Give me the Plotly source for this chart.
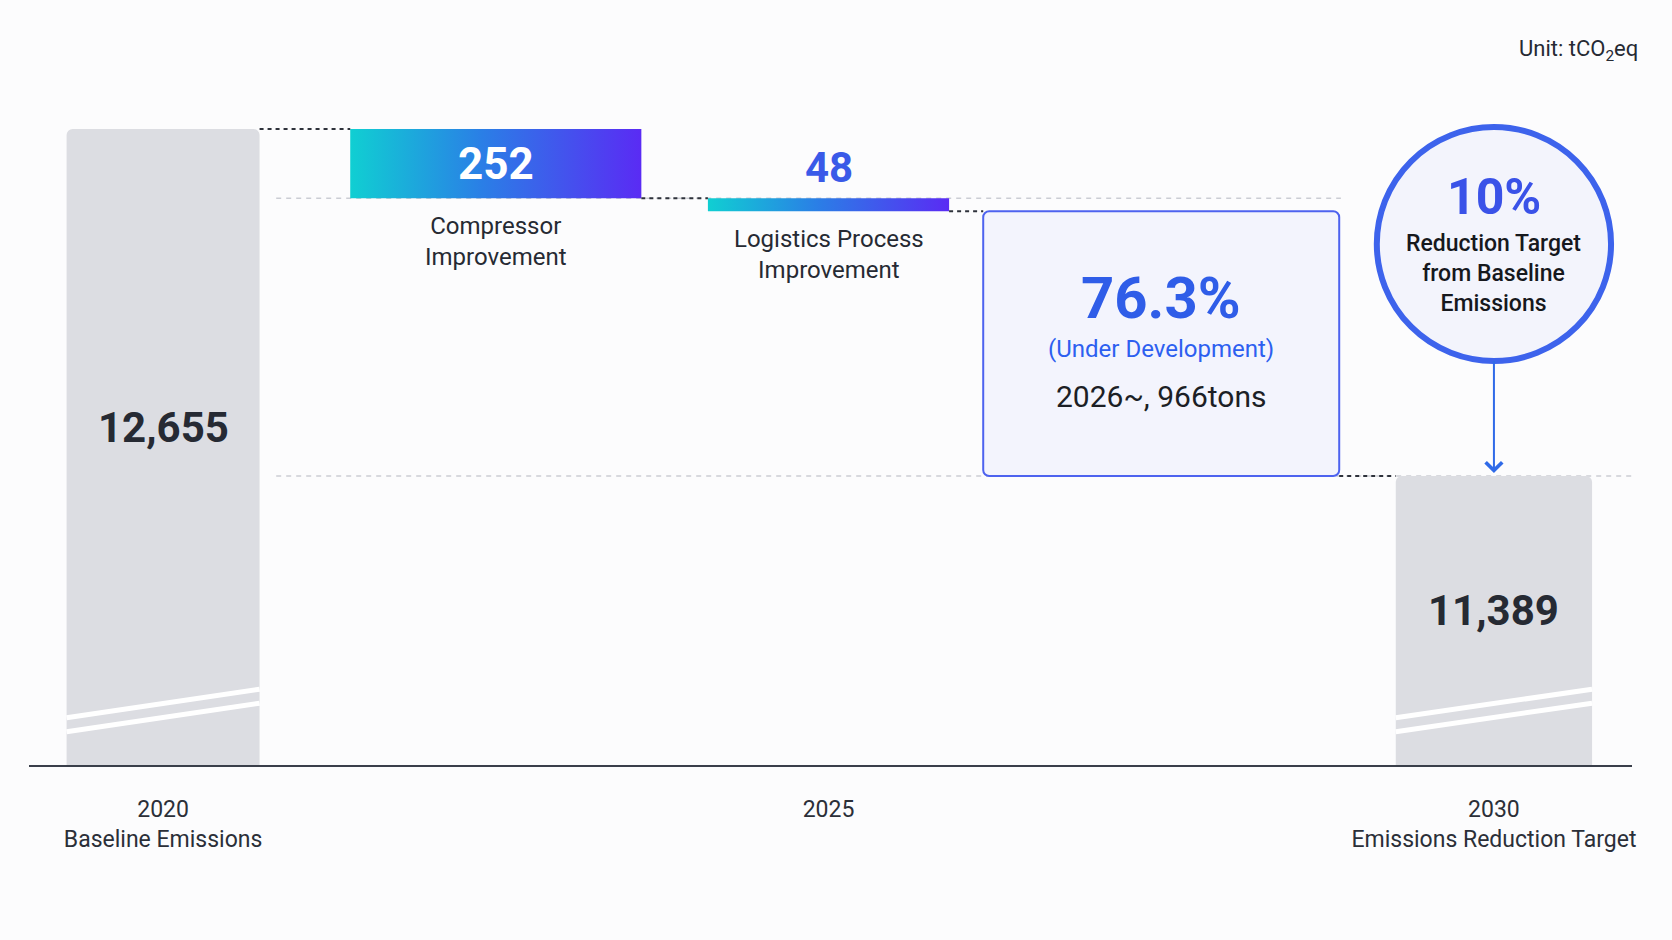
import numpy as np
import plotly.graph_objects as go

# data (tCO2eq)
baseline_2020 = 12655
step_names = ["Compressor<br>Improvement", "Logistics Process<br>Improvement", "(Under Development)"]
step_values = [252, 48, 966]
target_2030 = 11389
dev_period = "2026~"
tick_labels = ["2020<br>Baseline Emissions", "2025", "2030<br>Emissions Reduction Target"]
circle_text = "Reduction Target<br>from Baseline<br>Emissions"

# waterfall levels from the data
tops = baseline_2020 - np.concatenate([[0], np.cumsum(step_values)[:-1]])
bases = tops - np.array(step_values)
total_cut = baseline_2020 - target_2030
dev_share = step_values[2] / total_cut * 100
target_pct = total_cut / baseline_2020 * 100

# layout / style
FONT = "Roboto"
DARK = "#262a33"
x_pos = [0, 1, 2, 3, 4]
widths = [0.58, 0.875, 0.725, 1.07, 0.59]
grad = [[0, "#10cfd2"], [0.45, "#2a7fe6"], [1, "#5a2bf4"]]

fig = go.Figure()

# gray total bars (broken axis, bottom truncated)
fig.add_trace(go.Bar(x=[x_pos[0], x_pos[4]], y=[baseline_2020, target_2030],
                     width=[widths[0], widths[4]], marker_color="#dcdde2",
                     marker_line_width=0, hoverinfo="skip"))

# under-development box
fig.add_trace(go.Bar(x=[x_pos[3]], y=[step_values[2]], base=[bases[2]], width=[widths[3]],
                     marker=dict(color="#f3f4fd", line=dict(color="#4d62ef", width=2)),
                     hoverinfo="skip"))

# gradient step bars
for i in range(2):
    x0 = x_pos[i + 1] - widths[i + 1] / 2
    x1 = x_pos[i + 1] + widths[i + 1] / 2
    fig.add_trace(go.Scatter(x=[x0, x1, x1, x0, x0], y=[bases[i], bases[i], tops[i], tops[i], bases[i]],
                             mode="lines", line=dict(width=0), fill="toself",
                             fillgradient=dict(type="horizontal", colorscale=grad),
                             hoverinfo="skip"))

# dashed connectors between steps
levels = [baseline_2020] + list(bases)
for i in range(4):
    xa = x_pos[i] + widths[i] / 2
    xb = x_pos[i + 1] - widths[i + 1] / 2
    fig.add_trace(go.Scatter(x=[xa, xb], y=[levels[i], levels[i]], mode="lines",
                             line=dict(color="#2e323b", width=2, dash="4px,4px"),
                             hoverinfo="skip"))

shapes = [
    dict(type="line", xref="x", yref="y", x0=0.34, x1=3.54, y0=bases[0], y1=bases[0],
         line=dict(color="#cbcdd4", width=1.5, dash="5px,5px"), layer="below"),
    dict(type="line", xref="x", yref="y", x0=0.34, x1=4.415, y0=target_2030, y1=target_2030,
         line=dict(color="#cbcdd4", width=1.5, dash="5px,5px"), layer="below"),
    dict(type="circle", xref="x", yref="paper", x0=3.648, x1=4.352, y0=0.6075, y1=0.9594,
         fillcolor="#f3f4fc", line=dict(color="#3d63ec", width=6)),
]
# axis break marks on the gray bars
for xc, w in [(x_pos[0], widths[0]), (x_pos[4], widths[4])]:
    for y0, y1 in [(0.071, 0.114), (0.05, 0.093)]:
        shapes.append(dict(type="line", xref="x", yref="paper", x0=xc - w / 2, x1=xc + w / 2,
                           y0=y0, y1=y1, line=dict(color="white", width=5)))

ann = [
    dict(x=1.005, y=1.074, xref="paper", yref="paper", xanchor="right", yanchor="middle",
         showarrow=False, text="Unit: tCO<sub>2</sub>eq", font=dict(size=22, color=DARK)),
    dict(x=x_pos[0], y=0.507, yref="paper", yanchor="middle", showarrow=False,
         text=f"{baseline_2020:,}", font=dict(size=42, color=DARK, weight="bold")),
    dict(x=x_pos[4], y=0.233, yref="paper", yanchor="middle", showarrow=False,
         text=f"{target_2030:,}", font=dict(size=42, color=DARK, weight="bold")),
    dict(x=x_pos[1], y=(tops[0] + bases[0]) / 2, showarrow=False, text=f"{step_values[0]}",
         font=dict(size=44, color="white", weight="bold")),
    dict(x=x_pos[2], y=tops[1], yanchor="bottom", yshift=4, showarrow=False,
         text=f"{step_values[1]}", font=dict(size=42, color="#3a5ae8", weight="bold")),
    dict(x=x_pos[1], y=bases[0], yanchor="top", yshift=-12, showarrow=False,
         text=step_names[0], font=dict(size=24, color=DARK)),
    dict(x=x_pos[2], y=bases[1], yanchor="top", yshift=-12, showarrow=False,
         text=step_names[1], font=dict(size=24, color=DARK)),
    dict(x=x_pos[3], y=tops[2], yshift=-87, showarrow=False, text=f"{dev_share:.1f}%",
         font=dict(size=58, color="#2f5de8", weight="bold")),
    dict(x=x_pos[3], y=tops[2], yshift=-138, showarrow=False, text=step_names[2],
         font=dict(size=24, color="#2d5ff0")),
    dict(x=x_pos[3], y=tops[2], yshift=-185, showarrow=False,
         text=f"{dev_period}, {step_values[2]}tons", font=dict(size=30, color="#1c1f26")),
    dict(x=x_pos[4], y=0.854, yref="paper", yanchor="middle", showarrow=False,
         text=f"{target_pct:.0f}%", font=dict(size=50, color="#3a52e8", weight="bold")),
    # circle caption; its arrow points down at the 2030 target bar
    dict(x=x_pos[4], y=target_2030, ax=0, ay=-203, showarrow=True, arrowhead=4,
         arrowsize=1.6, arrowwidth=2, arrowcolor="#2f6ae8", standoff=3,
         borderpad=44, bordercolor="rgba(0,0,0,0)", text=circle_text,
         font=dict(size=23, color="#16181d", weight=500)),
]

fig.update_layout(
    width=1672, height=940,
    margin=dict(l=29, r=40, t=100, b=175),
    paper_bgcolor="#fcfcfd", plot_bgcolor="#fcfcfd",
    font=dict(family=FONT, color=DARK),
    showlegend=False, barmode="overlay", barcornerradius=6,
    shapes=shapes, annotations=ann,
    xaxis=dict(range=[-0.403, 4.415], tickvals=[0, 2, 4], ticktext=tick_labels,
               showgrid=False, zeroline=False, showline=True, linecolor="#3a3f4a",
               linewidth=2, ticks="", ticklabelstandoff=22,
               tickfont=dict(size=23, color="#2b2f38")),
    yaxis=dict(range=[10335, 12761], visible=False, showgrid=False, zeroline=False),
)

fig.write_html("out.html", config={"displayModeBar": False},
               post_script="document.body.style.margin='0px';")
